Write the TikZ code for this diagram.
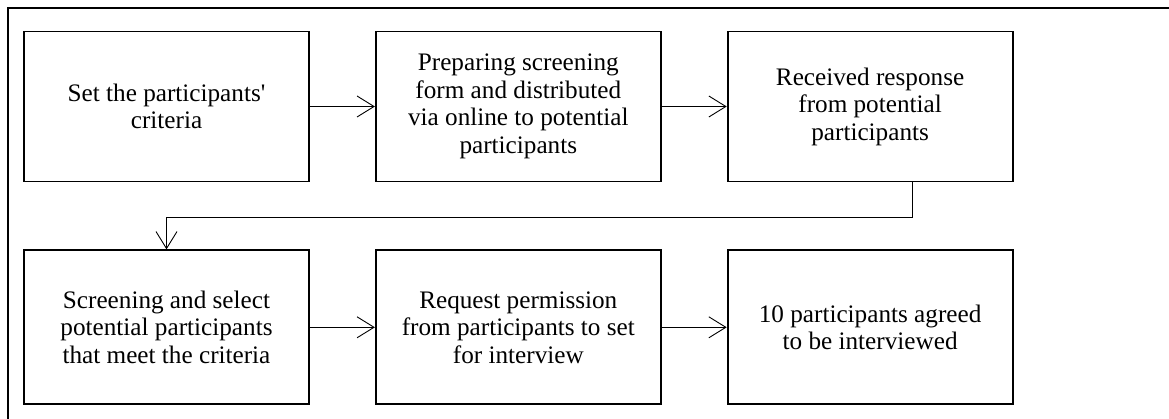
\documentclass[tikz,border=0pt]{standalone}
\usepackage{fontspec}
\setmainfont{Liberation Serif}
\usetikzlibrary{positioning,arrows.meta,calc}

\tikzset{
  stage/.style={draw, line width=1.8pt, minimum width=285pt, minimum height=150pt,
    align=center, inner sep=0pt, font=\fontsize{25.2}{27.5}\selectfont},
  flow/.style={line width=0.9pt, -{Straight Barb[length=17pt,width=21pt,line width=0.9pt]}}
}

\begin{document}
\begin{tikzpicture}[x=1pt,y=-1pt]
    \useasboundingbox (0,0) rectangle (1169,419);
    \draw [line width=1.4pt] (8,419) |- (1169,8);

    \node [stage] (set) at (166.5,106.5) {Set the participants\textquotesingle\\criteria};
    \node [stage, right=65pt of set] (prep) {Preparing screening\\form and distributed\\via online to potential\\participants};
    \node [stage, right=65pt of prep] (recv) {Received response\\from potential\\participants};

    \node [stage, minimum height=154pt, below=67pt of set] (screen) {Screening and select\\potential participants\\that meet the criteria};
    \node [stage, minimum height=154pt, right=65pt of screen] (perm) {Request permission\\from participants to set\\for interview};
    \node [stage, minimum height=154pt, right=65pt of perm] (agree) {10 participants agreed\\to be interviewed};

    \draw [flow] (set) to (prep);
    \draw [flow] (prep) to (recv);
    \draw [flow] ([xshift=42.5pt]recv.south) -- ++(0,35) -| (screen.north);
    \draw [flow] (screen) to (perm);
    \draw [flow] (perm) to (agree);
\end{tikzpicture}
\end{document}
